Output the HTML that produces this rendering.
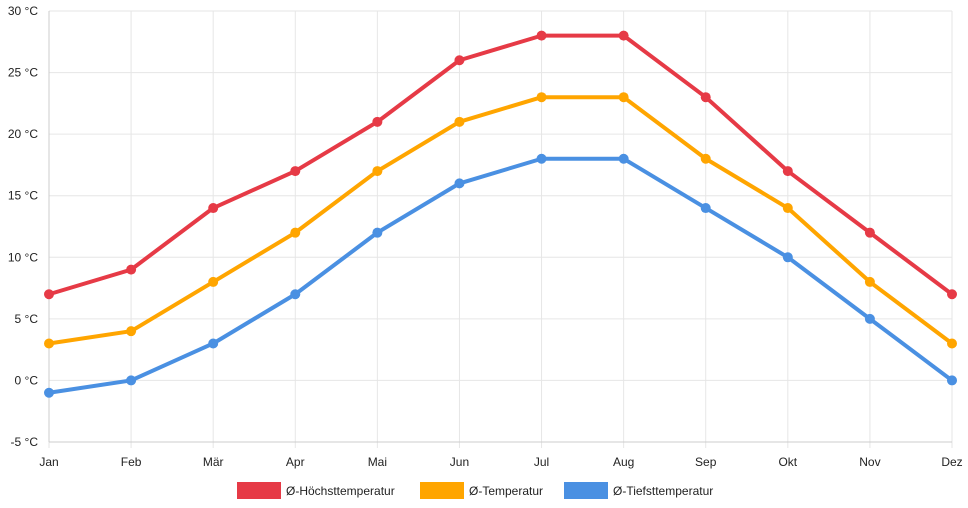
<!DOCTYPE html>
<html><head><meta charset="utf-8"><style>
html,body{margin:0;padding:0;background:#fff;}
svg{display:block;font-family:"Liberation Sans",sans-serif;}
</style></head><body>
<svg id="chart" width="968" height="508" viewBox="0 0 968 508" xmlns="http://www.w3.org/2000/svg"></svg>
<script>
const months = ["Jan","Feb","Mär","Apr","Mai","Jun","Jul","Aug","Sep","Okt","Nov","Dez"];
const highTemps = [7,9,14,17,21,26,28,28,23,17,12,7];
const meanTemps = [3,4,8,12,17,21,23,23,18,14,8,3];
const lowTemps = [-1,0,3,7,12,16,18,18,14,10,5,0];
const yTicks = [-5,0,5,10,15,20,25,30];
const seriesNames = ["Ø-Höchsttemperatur","Ø-Temperatur","Ø-Tiefsttemperatur"];

const NS="http://www.w3.org/2000/svg";
const svg=document.getElementById('chart');
const x0=49,x1=952,yTop=11,yBot=442,vMin=-5,vMax=30;
const xs=i=>x0+i*(x1-x0)/(months.length-1);
const ys=v=>yBot-(v-vMin)*(yBot-yTop)/(vMax-vMin);
function mk(tag,attrs){const e=document.createElementNS(NS,tag);for(const k in attrs)e.setAttribute(k,attrs[k]);svg.appendChild(e);return e;}

yTicks.forEach(t=>{
  const l=mk('line',{x1:x0,x2:x1,y1:ys(t),y2:ys(t),stroke:'#e6e6e6','stroke-width':1});
  
  
  const tx=mk('text',{x:38,y:ys(t)+4,'text-anchor':'end','font-size':12,fill:'#222'});
  tx.textContent=t+' °C';
  
  
});
months.forEach((m,i)=>{
  const l=mk('line',{x1:xs(i),x2:xs(i),y1:yTop,y2:yBot+6,stroke:'#e6e6e6','stroke-width':1});
  
  
  const tx=mk('text',{x:xs(i),y:466,'text-anchor':'middle','font-size':12,fill:'#222'});
  tx.textContent=m;
  
  
});
const ax=mk('line',{x1:x0,x2:x0,y1:yTop,y2:yBot,stroke:'#ccc','stroke-width':1});


const bx=mk('line',{x1:x0,x2:x1,y1:yBot,y2:yBot,stroke:'#ccc','stroke-width':1});



const series=[[highTemps,'#e63a46','high'],[meanTemps,'#ffa500','mean'],[lowTemps,'#4a90e2','low']];
series.forEach(([vals,col,key])=>{
  const p=mk('polyline',{points:vals.map((v,i)=>xs(i)+','+ys(v)).join(' '),fill:'none',stroke:col,'stroke-width':4,'stroke-linejoin':'round'});
  
  
  vals.forEach((v,i)=>{
    const c=mk('circle',{cx:xs(i),cy:ys(v),r:5,fill:col});
    
    
  });
});

const legendX=[237,420,564];
series.forEach(([v,col,key],i)=>{
  const r=mk('rect',{x:legendX[i],y:482,width:44,height:17,fill:col});
  
  
  const t=mk('text',{x:legendX[i]+49,y:495,'font-size':12,fill:'#222'});
  t.textContent=seriesNames[i];
  
  
});
</script>
</body></html>
